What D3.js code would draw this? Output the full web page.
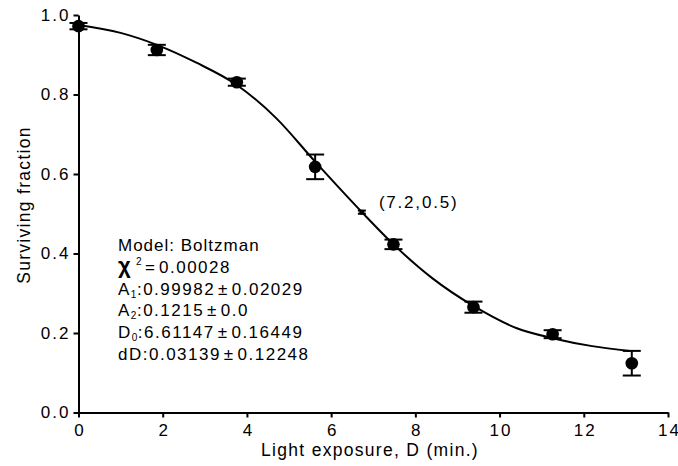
<!DOCTYPE html>
<html>
<head>
<meta charset="utf-8">
<script src="https://cdn.jsdelivr.net/npm/d3@7"></script>
<style>
  body { margin: 0; background: #fff; }
  svg text { font-family: "Liberation Sans", Arial, sans-serif; fill: #000; }
  .axis path, .axis line { stroke: #000; stroke-width: 2px; }
  .axis text { font-size: 17px; letter-spacing: 2px; }
</style>
</head>
<body>
<svg id="chart" width="678" height="466"></svg>
<script>
// measured points (light exposure in min, surviving fraction, error)
const doseX = [0, 1.86, 3.76, 5.62, 7.48, 9.38, 11.26, 13.14];
const survY = [0.972, 0.912, 0.831, 0.618, 0.423, 0.265, 0.197, 0.124];
const errY  = [0.008, 0.013, 0.009, 0.031, 0.012, 0.014, 0.010, 0.031];

// annotated point on the fit
const markX = [6.73];
const markY = [0.504];
const markErr = [0.004];
const markLabel = ["(7.2,0.5)"];

// Boltzmann fit curve
const fitX = [0, 1, 1.86, 2.8, 3.76, 4.7, 5.62, 6.73, 7.48, 8.4, 9.38, 10.41, 11.26, 12.2, 13.1];
const fitY = [0.975, 0.955, 0.925, 0.88, 0.824, 0.74, 0.631, 0.504, 0.423, 0.338, 0.268, 0.212, 0.187, 0.167, 0.155];

const xTicks = [0, 2, 4, 6, 8, 10, 12, 14];
const yTicks = [0, 0.2, 0.4, 0.6, 0.8, 1.0];

// fit parameters shown in the text box
const paramNames = [["A", "1"], ["A", "2"], ["D", "0"], ["dD", ""]];
const paramVals  = ["0.99982", "0.1215", "6.61147", "0.03139"];
const paramErrs  = ["0.02029", "0.0", "0.16449", "0.12248"];
const chiSq = "0.00028";

const svg = d3.select("#chart");
const margin = { top: 15, right: 10, bottom: 54, left: 78.5 };
const innerWidth  = 668 - margin.left;
const innerHeight = 412.5 - margin.top;

const g = svg.append("g")
  .attr("transform", `translate(${margin.left},${margin.top})`);

const x = d3.scaleLinear().domain([0, 14]).range([0, innerWidth]);
const y = d3.scaleLinear().domain([0, 1]).range([innerHeight, 0]);

// axes
g.append("g")
  .attr("class", "axis")
  .attr("transform", `translate(0,${innerHeight})`)
  .call(d3.axisBottom(x).tickValues(xTicks).tickSize(5).tickSizeOuter(0).tickPadding(6).tickFormat(d3.format("d")))
  .selectAll("text").attr("dx", 1);

g.append("g")
  .attr("class", "axis")
  .call(d3.axisLeft(y).tickValues(yTicks).tickSize(5).tickSizeOuter(0).tickPadding(3).tickFormat(d3.format(".1f")));

svg.append("text")
  .attr("x", 370)
  .attr("y", 456)
  .attr("text-anchor", "middle")
  .style("font-size", "17.5px")
  .style("letter-spacing", "1.3px")
  .text("Light exposure, D (min.)");

svg.append("text")
  .attr("transform", "translate(30,205) rotate(-90)")
  .attr("text-anchor", "middle")
  .style("font-size", "17.5px")
  .style("letter-spacing", "1.3px")
  .text("Surviving fraction");

// fit curve
const line = d3.line()
  .x(d => x(d[0]))
  .y(d => y(d[1]))
  .curve(d3.curveMonotoneX);

g.append("path")
  .datum(fitX.map((v, i) => [v, fitY[i]]))
  .attr("fill", "none")
  .attr("stroke", "#000")
  .attr("stroke-width", 2)
  .attr("d", line);

// error bars + points
function errorBars(sel, data, capW) {
  const eb = sel.append("g").attr("stroke", "#000").attr("stroke-width", 2);
  eb.selectAll("line.v").data(data).enter().append("line")
    .attr("x1", d => x(d.x)).attr("x2", d => x(d.x))
    .attr("y1", d => y(d.y - d.e)).attr("y2", d => y(d.y + d.e));
  eb.selectAll("line.t").data(data).enter().append("line")
    .attr("x1", d => x(d.x) - capW).attr("x2", d => x(d.x) + capW)
    .attr("y1", d => y(d.y + d.e)).attr("y2", d => y(d.y + d.e));
  eb.selectAll("line.b").data(data).enter().append("line")
    .attr("x1", d => x(d.x) - capW).attr("x2", d => x(d.x) + capW)
    .attr("y1", d => y(d.y - d.e)).attr("y2", d => y(d.y - d.e));
}

const pts = doseX.map((v, i) => ({ x: v, y: survY[i], e: errY[i] }));
errorBars(g, pts, 9);

g.append("g").selectAll("circle").data(pts).enter().append("circle")
  .attr("cx", d => x(d.x))
  .attr("cy", d => y(d.y))
  .attr("r", 6.3)
  .attr("fill", "#000");

// annotated point (tiny marker) and label
const marks = markX.map((v, i) => ({ x: v, y: markY[i], e: markErr[i], label: markLabel[i] }));
errorBars(g, marks, 4);
g.append("g").selectAll("circle").data(marks).enter().append("circle")
  .attr("cx", d => x(d.x))
  .attr("cy", d => y(d.y))
  .attr("r", 2.5)
  .attr("fill", "#000");
g.append("g").selectAll("text").data(marks).enter().append("text")
  .attr("x", d => x(d.x) + 17)
  .attr("y", d => y(d.y) - 4)
  .style("font-size", "17px")
  .style("letter-spacing", "1.8px")
  .text(d => d.label);

// model info block
const info = svg.append("g")
  .attr("transform", "translate(118,251)")
  .style("font-size", "17px")
  .style("letter-spacing", "1.5px");
const lh = 21.8;

info.append("text").attr("y", 0).style("letter-spacing", "1px").text("Model: Boltzman");

const chi = info.append("text").attr("y", lh);
chi.append("tspan").attr("x", 0).style("font-weight", "bold").style("font-size", "22px").text("χ");
chi.append("tspan").attr("x", 18).attr("dy", -8).style("font-size", "10px").text("2");
chi.append("tspan").attr("x", 27).attr("dy", 8).text("=");
chi.append("tspan").attr("x", 41).text(chiSq);

paramNames.forEach((p, i) => {
  const t = info.append("text").attr("y", lh * (i + 2));
  t.append("tspan").text(p[0]);
  if (p[1]) t.append("tspan").attr("dy", 3).style("font-size", "10px").style("letter-spacing", "0.5px").text(p[1]);
  t.append("tspan").attr("dy", p[1] ? -3 : 0).text(`:${paramVals[i]}\u200a±\u200a${paramErrs[i]}`);
});
</script>
</body>
</html>
